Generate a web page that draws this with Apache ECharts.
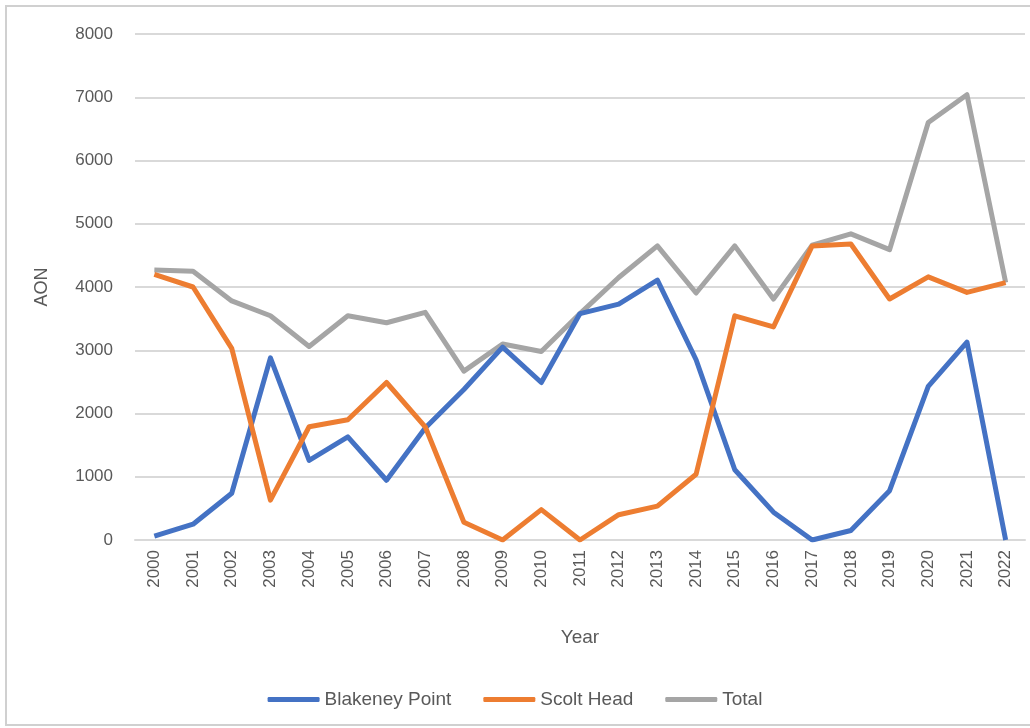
<!DOCTYPE html>
<html>
<head>
<meta charset="utf-8">
<script src="https://cdn.jsdelivr.net/npm/echarts@6/dist/echarts.min.js"></script>
<style>
  html, body { margin: 0; padding: 0; background: #fff; }
  #frame { position: absolute; left: 5px; top: 5px; width: 1030px; height: 721px; border: 2px solid #d0d0d0; box-sizing: border-box; }
  #chart { width: 1030px; height: 728px; }
</style>
</head>
<body>
<div id="frame"></div>
<div id="chart"></div>
<script>
// years on the x axis
const years = ['2000','2001','2002','2003','2004','2005','2006','2007','2008','2009','2010','2011',
               '2012','2013','2014','2015','2016','2017','2018','2019','2020','2021','2022'];

// AON counts
const blakeney = [60, 250, 740, 2880, 1260, 1630, 945, 1770, 2380, 3050, 2490, 3580,
                  3730, 4110, 2850, 1110, 440, 0, 150, 780, 2430, 3130, 0];
const scolt    = [4200, 4000, 3030, 630, 1790, 1900, 2490, 1790, 280, 0, 480, 0,
                  400, 535, 1040, 3545, 3370, 4650, 4680, 3810, 4160, 3915, 4070];
const total    = [4270, 4250, 3780, 3545, 3060, 3545, 3435, 3600, 2670, 3100, 2980, 3580,
                  4150, 4650, 3905, 4650, 3810, 4660, 4840, 4590, 6600, 7040, 4070];

const txt = '#595959';
const font = 'Liberation Sans';

let myChart = echarts.init(document.getElementById('chart'));
let option = {
    animation: false,
    textStyle: { fontFamily: font },
    grid: { left: 135, right: 5, top: 34, bottom: 188 },
    legend: {
        bottom: 14,
        left: 'center',
        itemWidth: 52,
        itemHeight: 5,
        itemGap: 32,
        icon: 'roundRect',
        textStyle: { color: txt, fontSize: 19, fontFamily: font },
        data: ['Blakeney Point', 'Scolt Head', 'Total']
    },
    xAxis: {
        type: 'category',
        data: years,
        boundaryGap: true,
        name: 'Year',
        nameLocation: 'middle',
        nameGap: 88,
        nameTextStyle: { color: txt, fontSize: 19 },
        axisLine: { lineStyle: { color: '#d9d9d9', width: 2 } },
        axisTick: { show: false },
        axisLabel: { rotate: 90, color: txt, fontSize: 17, margin: 10, interval: 0 }
    },
    yAxis: {
        type: 'value',
        min: 0,
        max: 8000,
        interval: 1000,
        name: 'AON',
        nameLocation: 'middle',
        nameGap: 84,
        nameTextStyle: { color: txt, fontSize: 18 },
        axisLine: { show: false },
        axisTick: { show: false },
        axisLabel: { color: txt, fontSize: 17, margin: 22, formatter: v => String(v) },
        splitLine: { lineStyle: { color: '#d9d9d9', width: 2 } }
    },
    series: [
        { name: 'Blakeney Point', type: 'line', data: blakeney, symbol: 'none',
          lineStyle: { color: '#4472C4', width: 5, join: 'round' }, itemStyle: { color: '#4472C4' } },
        { name: 'Scolt Head', type: 'line', data: scolt, symbol: 'none',
          lineStyle: { color: '#ED7D31', width: 5, join: 'round' }, itemStyle: { color: '#ED7D31' } },
        { name: 'Total', type: 'line', data: total, symbol: 'none', z: 1,
          lineStyle: { color: '#A5A5A5', width: 5, join: 'round' }, itemStyle: { color: '#A5A5A5' } }
    ]
};
option && myChart.setOption(option);
</script>
</body>
</html>
